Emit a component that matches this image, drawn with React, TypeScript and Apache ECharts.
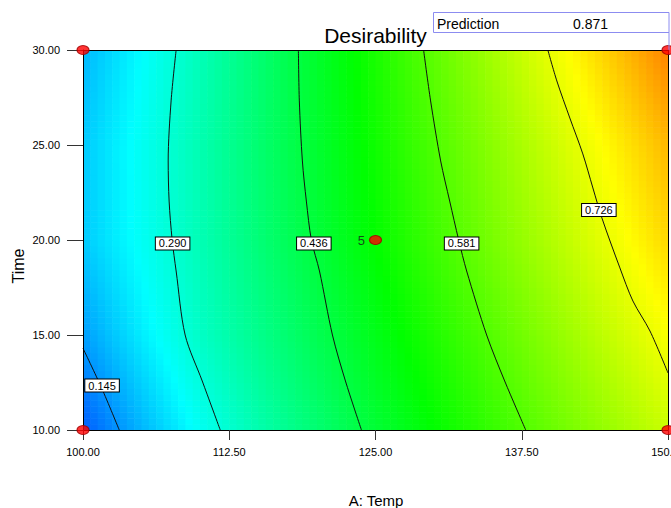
import React, { useEffect, useRef } from "react";
import * as echarts from "echarts";

// ---- data ----
const TEMP_GRID = [100, 105, 110, 115, 120, 125, 130, 135, 140, 145, 150];
const TIME_GRID = [10, 15, 20, 25, 30];
// desirability estimates at each (time row, temp column)
const D_T10 = [0.09, 0.177, 0.261, 0.329, 0.389, 0.448, 0.5, 0.552, 0.602, 0.65, 0.698];
const D_T15 = [0.155, 0.232, 0.305, 0.362, 0.42, 0.476, 0.53, 0.584, 0.638, 0.692, 0.745];
const D_T20 = [0.198, 0.26, 0.322, 0.383, 0.444, 0.502, 0.56, 0.618, 0.674, 0.731, 0.788];
const D_T25 = [0.198, 0.262, 0.326, 0.39, 0.453, 0.514, 0.575, 0.636, 0.697, 0.758, 0.819];
const D_T30 = [0.179, 0.249, 0.319, 0.388, 0.458, 0.525, 0.593, 0.661, 0.73, 0.8, 0.871];
const D_GRID = [D_T10, D_T15, D_T20, D_T25, D_T30];

const COLOR_STOPS = ["#0000ff", "#00ffff", "#00ff00", "#ffff00", "#ff0000"];

const CONTOUR_LEVELS = [0.145, 0.29, 0.436, 0.581, 0.726];
const CONTOUR_0145 = [[100, 14.3], [101.6, 12.2], [103.1, 10]];
const CONTOUR_0290 = [[107.96, 30], [107.53, 27.32], [107.28, 24.16], [107.36, 22.05], [107.62, 20], [107.96, 18.37], [108.73, 15], [110.19, 12.58], [111.73, 10]];
const CONTOUR_0436 = [[118.41, 30], [118.49, 27.32], [118.75, 24.16], [119.09, 22.05], [119.52, 20], [120.21, 18.37], [121.32, 15], [122.43, 12.58], [123.8, 10]];
const CONTOUR_0581 = [[129.11, 30], [129.71, 27.32], [130.57, 24.16], [131.34, 22.05], [132.11, 20], [132.79, 18.37], [134.5, 15], [136.04, 12.58], [137.84, 10]];
const CONTOUR_0726 = [[139.73, 30], [140.5, 28.37], [141.61, 26.42], [142.72, 24.53], [143.58, 22.74], [144.35, 21.16], [145.89, 18.53], [147.0, 16.79], [148.46, 15.21], [150, 13.0]];
const CONTOURS = [CONTOUR_0145, CONTOUR_0290, CONTOUR_0436, CONTOUR_0581, CONTOUR_0726];
const CONTOUR_LABEL_TEMP = [101.63, 107.66, 119.73, 132.36, 144.09];
const CONTOUR_LABEL_TIME = [12.34, 19.82, 19.82, 19.82, 21.58];

const DESIGN_TEMP = [100, 100, 150, 150, 125];
const DESIGN_TIME = [10, 30, 10, 30, 20];
const DESIGN_REPLICATES = [1, 1, 1, 1, 5];

const PREDICTION = 0.871;

const FONT = 'Arial, "Liberation Sans", sans-serif';

export default function App() {
  const ref = useRef<HTMLDivElement>(null);
  useEffect(() => {
    if (!ref.current) return;
    const chart = echarts.init(ref.current, undefined, { renderer: "svg" });

    const cells: number[][] = [];
    for (let j = 0; j < TIME_GRID.length - 1; j++)
      for (let i = 0; i < TEMP_GRID.length - 1; i++)
        cells.push([TEMP_GRID[i], TIME_GRID[j], i, j]);

    const NX = 8;
    const NY = 16;

    const renderCell = (params: any, api: any) => {
      const i = api.value(2);
      const j = api.value(3);
      const v00 = D_GRID[j][i];
      const v10 = D_GRID[j][i + 1];
      const v01 = D_GRID[j + 1][i];
      const v11 = D_GRID[j + 1][i + 1];
      const p0 = api.coord([TEMP_GRID[i], TIME_GRID[j]]);
      const p1 = api.coord([TEMP_GRID[i + 1], TIME_GRID[j + 1]]);
      const w = p1[0] - p0[0];
      const h = p0[1] - p1[1];
      const children: any[] = [];
      for (let a = 0; a < NX; a++) {
        for (let b = 0; b < NY; b++) {
          const u = (a + 0.5) / NX;
          const s = (b + 0.5) / NY;
          const v =
            (1 - u) * (1 - s) * v00 + u * (1 - s) * v10 + (1 - u) * s * v01 + u * s * v11;
          children.push({
            type: "rect",
            shape: {
              x: p0[0] + (a * w) / NX,
              y: p0[1] - ((b + 1) * h) / NY,
              width: w / NX + 0.6,
              height: h / NY + 0.6,
            },
            style: { fill: echarts.color.lerp(Math.max(0, Math.min(1, v)), COLOR_STOPS) },
          });
        }
      }
      return { type: "group", children };
    };

    const contourSeries = CONTOURS.map((pts, k) => ({
      type: "line",
      name: "c" + k,
      data: pts,
      smooth: 0.3,
      symbol: "none",
      clip: true,
      lineStyle: { color: "#111", width: 1 },
      z: 3,
      silent: true,
    }));

    const labelData = CONTOUR_LEVELS.map((lv, k) => [CONTOUR_LABEL_TEMP[k], CONTOUR_LABEL_TIME[k], lv.toFixed(3)]);
    const designData = DESIGN_TEMP.map((T, k) => [T, DESIGN_TIME[k], DESIGN_REPLICATES[k]]);

    const axisLabelStyle = { fontSize: 11, color: "#000", fontFamily: FONT };

    chart.setOption({
      animation: false,
      backgroundColor: "#fff",
      grid: { left: 83, top: 50, width: 585, height: 380, containLabel: false, outerBoundsMode: "none" },
      xAxis: [
        {
          type: "value",
          min: 100,
          max: 150,
          interval: 12.5,
          position: "bottom",
          axisLine: { show: true, onZero: false, lineStyle: { color: "#000", width: 1 } },
          axisTick: { show: true, length: 10, lineStyle: { color: "#333" } },
          axisLabel: { ...axisLabelStyle, margin: 16, formatter: (v: number) => v.toFixed(2) },
          splitLine: { show: false },
          z: 5,
        },
        {
          type: "value",
          min: 100,
          max: 150,
          position: "top",
          axisLine: { show: true, onZero: false, lineStyle: { color: "#000", width: 1 } },
          axisTick: { show: false },
          axisLabel: { show: false },
          splitLine: { show: false },
          z: 5,
        },
      ],
      yAxis: [
        {
          type: "value",
          min: 10,
          max: 30,
          interval: 5,
          position: "left",
          axisLine: { show: true, onZero: false, lineStyle: { color: "#000", width: 1 } },
          axisTick: { show: true, length: 16, lineStyle: { color: "#333" } },
          axisLabel: { ...axisLabelStyle, margin: 23, formatter: (v: number) => v.toFixed(2) },
          splitLine: { show: false },
          z: 5,
        },
        {
          type: "value",
          min: 10,
          max: 30,
          position: "right",
          axisLine: { show: true, onZero: false, lineStyle: { color: "#000", width: 1 } },
          axisTick: { show: false },
          axisLabel: { show: false },
          splitLine: { show: false },
          z: 5,
        },
      ],
      series: [
        {
          type: "custom",
          name: "surface",
          data: cells,
          encode: { x: 0, y: 1 },
          renderItem: renderCell,
          clip: true,
          silent: true,
          z: 1,
        },
        ...contourSeries,
        {
          type: "scatter",
          name: "levels",
          data: labelData,
          symbolSize: 1,
          itemStyle: { color: "#fff", opacity: 1 },
          z: 4,
          silent: true,
          label: {
            show: true,
            position: "inside",
            formatter: (p: any) => p.value[2],
            fontSize: 11,
            fontFamily: FONT,
            color: "#000",
            opacity: 1,
            backgroundColor: "#ffffff",
            borderColor: "#000000",
            borderWidth: 1,
            padding: [1, 3, 0, 3],
          },
        },
        {
          type: "scatter",
          name: "design",
          data: designData,
          symbol: "circle",
          symbolSize: [12, 9],
          clip: false,
          z: 10,
          silent: true,
          itemStyle: { color: "#ff0000", borderColor: "#a00000", borderWidth: 1 },
          label: {
            show: true,
            position: "left",
            distance: 4,
            fontSize: 13,
            fontFamily: FONT,
            color: "#1a1a1a",
            formatter: (p: any) => (p.value[2] > 1 ? String(p.value[2]) : ""),
          },
        },
      ],
      graphic: [
        {
          type: "text",
          x: 375.5,
          y: 35,
          style: { text: "Desirability", fontSize: 21, fontFamily: FONT, fill: "#000", align: "center", verticalAlign: "middle" },
          z: 20,
        },
        {
          type: "rect",
          shape: { x: 433.5, y: 12.5, width: 235.5, height: 20 },
          style: { fill: "#fff", stroke: "#8c8cf0", lineWidth: 1 },
          z: 20,
        },
        {
          type: "line",
          shape: { x1: 669, y1: 32.5, x2: 669, y2: 50 },
          style: { stroke: "#8c8cf0", lineWidth: 1 },
          z: 20,
        },
        {
          type: "text",
          x: 437,
          y: 24,
          style: { text: "Prediction", fontSize: 14, fontFamily: FONT, fill: "#000", align: "left", verticalAlign: "middle" },
          z: 21,
        },
        {
          type: "text",
          x: 573,
          y: 24,
          style: { text: PREDICTION.toFixed(3), fontSize: 14, fontFamily: FONT, fill: "#000", align: "left", verticalAlign: "middle" },
          z: 21,
        },
        {
          type: "text",
          x: 18,
          y: 266,
          rotation: Math.PI / 2,
          style: { text: "Time", fontSize: 16, fontFamily: FONT, fill: "#000", align: "center", verticalAlign: "middle" },
          z: 20,
        },
        {
          type: "text",
          x: 376,
          y: 500,
          style: { text: "A: Temp", fontSize: 15, fontFamily: FONT, fill: "#000", align: "center", verticalAlign: "middle" },
          z: 20,
        },
      ],
    });

    return () => chart.dispose();
  }, []);

  return (
    <div
      ref={ref}
      style={{ position: "fixed", left: 0, top: 0, width: 671, height: 508, background: "#fff" }}
    />
  );
}
